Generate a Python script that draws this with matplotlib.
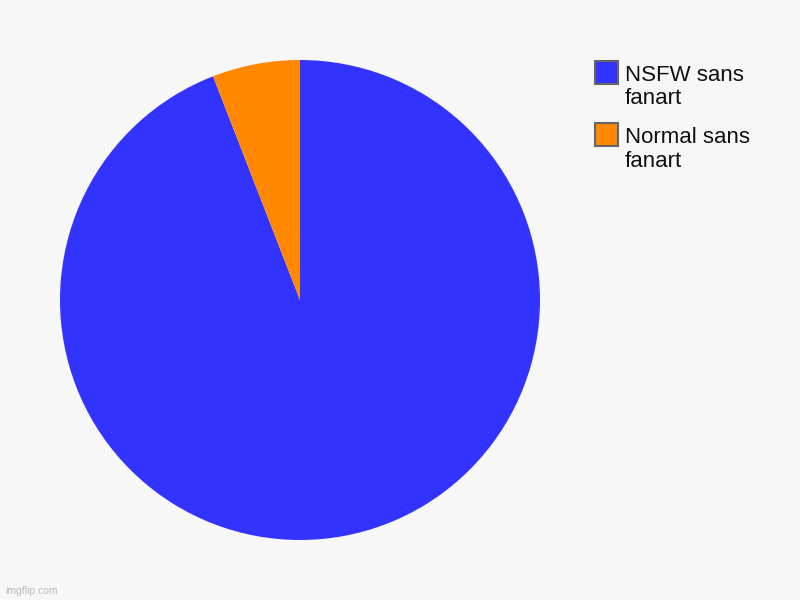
import matplotlib
matplotlib.use("Agg")
import matplotlib.pyplot as plt
from matplotlib.patches import Rectangle

labels = ["NSFW sans\nfanart", "Normal sans\nfanart"]
values = [94.1, 5.9]
colors = ["#3333ff", "#ff8800"]

bg = "#f7f7f7"
fig = plt.figure(figsize=(8, 6), dpi=100, facecolor=bg)
ax = fig.add_axes([60/800, 60/600, 480/800, 480/600])
ax.set_facecolor(bg)
ax.pie(values, colors=colors, startangle=90, counterclock=False,
       radius=1, wedgeprops=dict(linewidth=0))
ax.set_xlim(-1, 1)
ax.set_ylim(-1, 1)
ax.set_aspect("equal")
ax.axis("off")

# legend
for i, (lab, col) in enumerate(zip(labels, colors)):
    y_top = 61 + i * 62
    fig.patches.append(Rectangle((595/800, 1 - (y_top + 23)/600), 23/800, 23/600,
                                 transform=fig.transFigure, facecolor=col,
                                 edgecolor="#666666", linewidth=1.5))
    for j, line in enumerate(lab.split("\n")):
        fig.text(625/800, 1 - (y_top + 20 + 23.5 * j)/600, line, ha="left",
                 va="baseline", fontsize=16, family="Liberation Sans",
                 color="#111111")

fig.text(5/800, 1 - 591/600, "imgflip.com", ha="left", va="center",
         fontsize=7.5, family="Liberation Sans", color="#bbbbbb")

fig.savefig("out.png", dpi=100, facecolor=bg)
